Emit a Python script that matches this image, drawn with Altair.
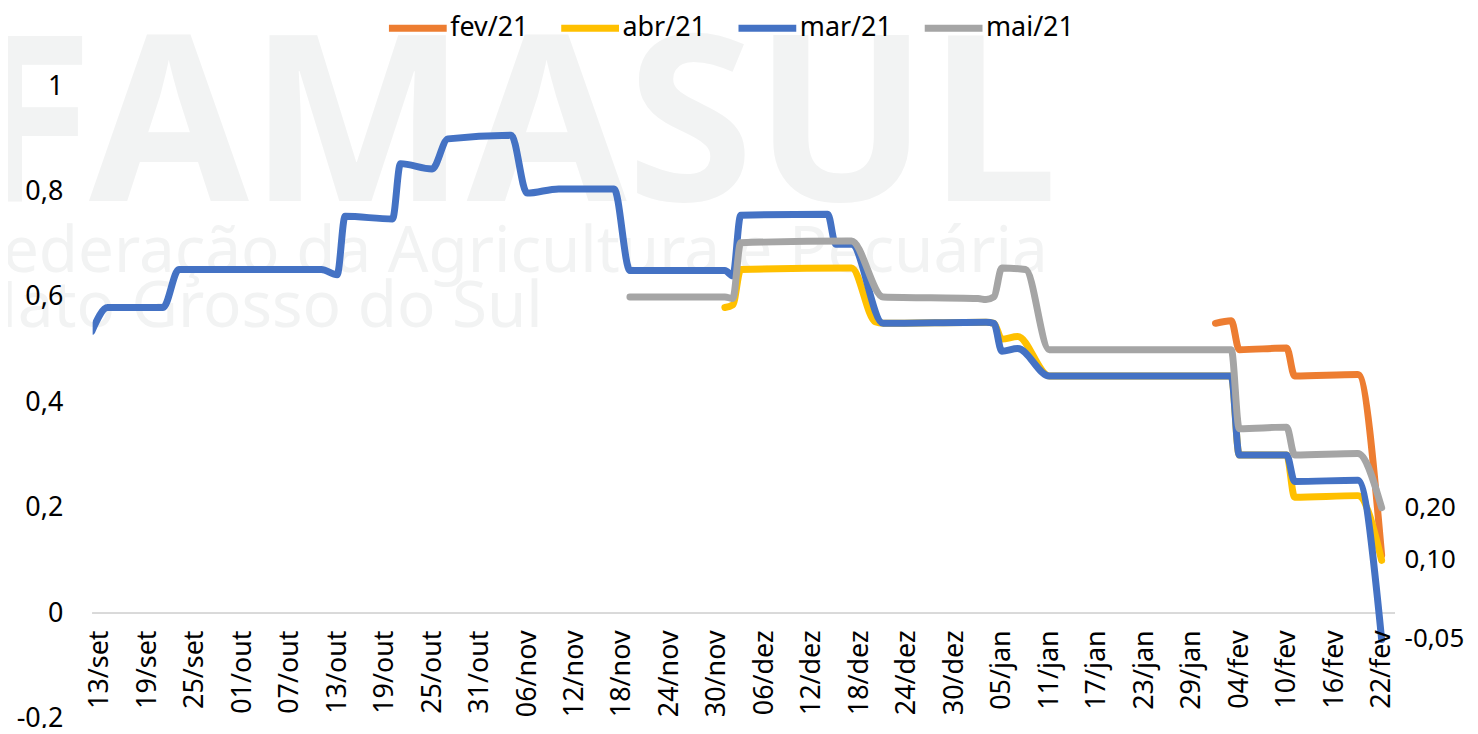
import altair as alt
import pandas as pd

START = "2020-09-13"
SERIES = ["fev/21", "abr/21", "mar/21", "mai/21"]
COLORS = ["#ED7D31", "#FFC000", "#4472C4", "#A5A5A5"]

fev_dates = ["2021-02-01", "2021-02-03", "2021-02-04", "2021-02-10", "2021-02-11",
             "2021-02-19", "2021-02-22"]
fev_vals = [0.55, 0.555, 0.50, 0.503, 0.45, 0.453, 0.11]

abr_dates = ["2020-12-01", "2020-12-02", "2020-12-03", "2020-12-17", "2020-12-20",
             "2020-12-21", "2021-01-03", "2021-01-04", "2021-01-05", "2021-01-07",
             "2021-01-11", "2021-02-03", "2021-02-04", "2021-02-10", "2021-02-11",
             "2021-02-19", "2021-02-22"]
abr_vals = [0.58, 0.585, 0.652, 0.655, 0.553, 0.55, 0.552, 0.55, 0.52, 0.525,
            0.45, 0.45, 0.30, 0.30, 0.22, 0.223, 0.10]

mar_dates = ["2020-09-12", "2020-09-14", "2020-09-21", "2020-09-23", "2020-10-11",
             "2020-10-13", "2020-10-14", "2020-10-20", "2020-10-21", "2020-10-25",
             "2020-10-27", "2020-11-04", "2020-11-06", "2020-11-10", "2020-11-17",
             "2020-11-19", "2020-12-01", "2020-12-02", "2020-12-03", "2020-12-14",
             "2020-12-15", "2020-12-17", "2020-12-21", "2021-01-03", "2021-01-04",
             "2021-01-05", "2021-01-07", "2021-01-11", "2021-02-03", "2021-02-04",
             "2021-02-10", "2021-02-11", "2021-02-19", "2021-02-22"]
mar_vals = [0.535, 0.58, 0.58, 0.652, 0.652, 0.642, 0.753, 0.748, 0.853, 0.843,
            0.90, 0.907, 0.797, 0.805, 0.805, 0.65, 0.65, 0.64, 0.755, 0.757,
            0.70, 0.70, 0.55, 0.552, 0.55, 0.497, 0.502, 0.45, 0.45, 0.30,
            0.30, 0.25, 0.252, -0.05]

mai_dates = ["2020-11-19", "2020-12-01", "2020-12-02", "2020-12-03", "2020-12-17",
             "2020-12-21", "2021-01-02", "2021-01-03", "2021-01-04", "2021-01-05",
             "2021-01-08", "2021-01-11", "2021-02-03", "2021-02-04", "2021-02-10",
             "2021-02-11", "2021-02-19", "2021-02-22"]
mai_vals = [0.60, 0.60, 0.597, 0.703, 0.706, 0.60, 0.597, 0.595, 0.60, 0.655,
            0.652, 0.50, 0.50, 0.35, 0.353, 0.30, 0.303, 0.20]

tick_labels = ["13/set", "19/set", "25/set", "01/out", "07/out", "13/out", "19/out",
               "25/out", "31/out", "06/nov", "12/nov", "18/nov", "24/nov", "30/nov",
               "06/dez", "12/dez", "18/dez", "24/dez", "30/dez", "05/jan", "11/jan",
               "17/jan", "23/jan", "29/jan", "04/fev", "10/fev", "16/fev", "22/fev"]
y_ticks = [-0.2, 0, 0.2, 0.4, 0.6, 0.8, 1.0]

# ---- build table ----
rows = []
t0 = pd.Timestamp(START)
for name, ds, vs in [("fev/21", fev_dates, fev_vals), ("abr/21", abr_dates, abr_vals),
                     ("mar/21", mar_dates, mar_vals), ("mai/21", mai_dates, mai_vals)]:
    for d, v in zip(ds, vs):
        rows.append({"s": name, "d": (pd.Timestamp(d) - t0).days, "v": v})
df = pd.DataFrame(rows)
last_day = (pd.Timestamp(mar_dates[-1]) - t0).days
tick_values = [i * 6 for i in range(len(tick_labels))]
label_js = "[" + ",".join("'" + t + "'" for t in tick_labels) + "]"

FONT = "Noto Sans"
FS = 27

xscale = alt.Scale(domain=[-0.9, 163.6], nice=False, zero=False)
yscale = alt.Scale(domain=[-0.2, 1.0], nice=False, zero=False)

xaxis = alt.Axis(values=tick_values, labelExpr=label_js + "[round(datum.value/6)]",
                 labelAngle=-90, labelAlign="right", labelBaseline="middle",
                 labelPadding=17, ticks=False, domain=False, grid=False, offset=-106,
                 labelFontSize=FS, labelFont=FONT, labelColor="#000000", title=None,
                 labelOverlap=False, labelFlush=False, zindex=1)
yaxis = alt.Axis(values=y_ticks,
                 labelExpr="replace(toString(round(datum.value*10)/10), '.', ',')",
                 ticks=False, domain=False, grid=False, labelPadding=30,
                 labelFontSize=FS, labelFont=FONT, labelColor="#000000", title=None,
                 zindex=1)

# watermark
wm_color = "#f2f3f3"
wm1 = alt.Chart(pd.DataFrame({"t": ["FAMASUL"]})).mark_text(
    font=FONT, fontSize=232, fontWeight="bold", color=wm_color, align="right",
    baseline="alphabetic").encode(x=alt.value(969), y=alt.value(115), text="t:N")
wm2 = alt.Chart(pd.DataFrame({"t": ["Federação da Agricultura e Pecuária"]})).mark_text(
    font=FONT, fontSize=64, color=wm_color, align="right",
    baseline="alphabetic").encode(x=alt.value(959), y=alt.value(187), text="t:N")
wm3 = alt.Chart(pd.DataFrame({"t": ["Mato Grosso do Sul"]})).mark_text(
    font=FONT, fontSize=64, color=wm_color, align="right",
    baseline="alphabetic").encode(x=alt.value(452), y=alt.value(242), text="t:N")

base = alt.Chart(df)

zero = base.mark_rule(color="#d9d9d9", strokeWidth=1.5).encode(
    y=alt.datum(0, scale=yscale))

lines = base.mark_line(interpolate="monotone", strokeWidth=7, strokeCap="round",
                       strokeJoin="round", clip=True).encode(
    x=alt.X("d:Q", scale=xscale, axis=xaxis),
    y=alt.Y("v:Q", scale=yscale, axis=yaxis),
    color=alt.Color("s:N", scale=alt.Scale(domain=SERIES, range=COLORS),
                    legend=alt.Legend(orient="none", legendX=294, legendY=-91,
                                      direction="horizontal", columns=4, title=None,
                                      symbolType="stroke", symbolSize=3364,
                                      symbolStrokeWidth=7, labelFontSize=FS,
                                      labelFont=FONT, labelColor="#000000",
                                      labelOffset=0, columnPadding=18)),
    detail="s:N",
)

end_labels = base.transform_filter(
    (alt.datum.d == last_day) & (alt.datum.s != "fev/21")
).transform_calculate(
    lab="replace(replace(format(datum.v, '.2f'), '.', ','), '\u2212', '-')"
).mark_text(align="left", baseline="middle", dx=23, font=FONT, fontSize=FS - 1,
            color="#000000").encode(
    x=alt.X("d:Q", scale=xscale),
    y=alt.Y("v:Q", scale=yscale),
    text="lab:N",
)

chart = alt.layer(wm1, wm2, wm3, zero, lines, end_labels).properties(
    width=1307, height=635,
    padding={"left": 85, "top": 77, "right": 76, "bottom": 8},
    autosize=alt.AutoSizeParams(type="none"),
    background="white",
).configure_view(stroke=None)

chart.save("out.html", embed_options={"renderer": "svg", "actions": False})
